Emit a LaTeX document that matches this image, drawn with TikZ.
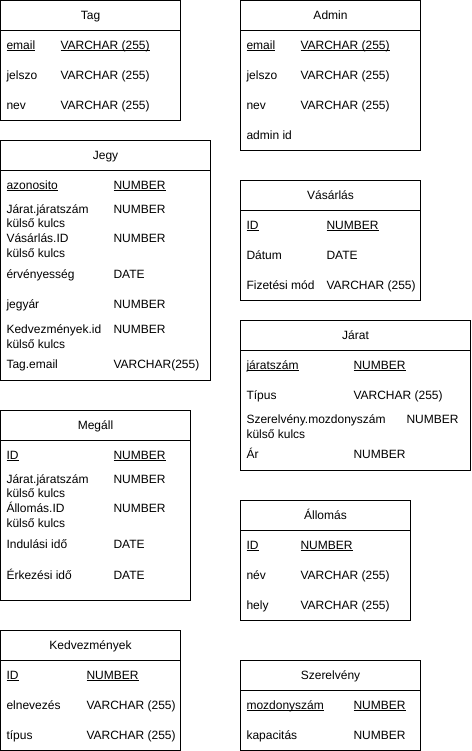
\documentclass[tikz,border=0pt]{standalone}
\usepackage{fontspec}
\setmainfont{Liberation Sans}
\newcommand\ulx[1]{\setbox0=\hbox{#1}\rlap{\rule[-1.7pt]{\wd0}{0.7pt}}\box0}
\begin{document}
\begin{tikzpicture}[x=1pt,y=-1pt,line width=1pt,
  fld/.style={anchor=base west,inner sep=0pt,yshift=-4.3pt,font=\fontsize{12}{14}\selectfont},
  ttl/.style={anchor=base,inner sep=0pt,yshift=-4.3pt,font=\fontsize{12}{14}\selectfont}]
\useasboundingbox (0,0) rectangle (471,751);
\fill[white] (0,0) rectangle (471,751);
% Tag
\draw (0.5,0.5) rectangle (180.5,120.5); \draw (0.5,30.5) -- (180.5,30.5);
\node[ttl] (tagT) at (90.5,15) {Tag};
\node[fld] (tag1a) at (6,45) {\ulx{email}}; \node[fld] (tag1b) at (60,45) {\ulx{VARCHAR (255)}};
\node[fld] (tag2a) at (6,75) {jelszo}; \node[fld] (tag2b) at (60,75) {VARCHAR (255)};
\node[fld] (tag3a) at (6,105) {nev}; \node[fld] (tag3b) at (60,105) {VARCHAR (255)};
% Admin
\draw (240.5,0.5) rectangle (420.5,150.5); \draw (240.5,30.5) -- (420.5,30.5);
\node[ttl] (admT) at (330.5,15) {Admin};
\node[fld] (adm1a) at (246,45) {\ulx{email}}; \node[fld] (adm1b) at (300,45) {\ulx{VARCHAR (255)}};
\node[fld] (adm2a) at (246,75) {jelszo}; \node[fld] (adm2b) at (300,75) {VARCHAR (255)};
\node[fld] (adm3a) at (246,105) {nev}; \node[fld] (adm3b) at (300,105) {VARCHAR (255)};
\node[fld] (adm4a) at (246,135) {admin id};
% Jegy
\draw (0.5,140.5) rectangle (210.5,380.5); \draw (0.5,170.5) -- (210.5,170.5);
\node[ttl] (jegT) at (105.5,155) {Jegy};
\node[fld] (jeg1a) at (6,185) {\ulx{azonosito}}; \node[fld] (jeg1b) at (113,185) {\ulx{NUMBER}};
\node[fld] (jeg2a) at (6,209) {Járat.járatszám}; \node[fld] (jeg2c) at (6,223.5) {külső kulcs}; \node[fld] (jeg2b) at (113,209) {NUMBER};
\node[fld] (jeg3a) at (6,238.5) {Vásárlás.ID}; \node[fld] (jeg3c) at (6,253) {külső kulcs}; \node[fld] (jeg3b) at (113,238.5) {NUMBER};
\node[fld] (jeg4a) at (6,274) {érvényesség}; \node[fld] (jeg4b) at (113,274) {DATE};
\node[fld] (jeg5a) at (6,304.5) {jegyár}; \node[fld] (jeg5b) at (113,304.5) {NUMBER};
\node[fld] (jeg6a) at (6,329.5) {Kedvezmények.id}; \node[fld] (jeg6c) at (6,344) {külső kulcs}; \node[fld] (jeg6b) at (113,329.5) {NUMBER};
\node[fld] (jeg7a) at (6,364.5) {Tag.email}; \node[fld] (jeg7b) at (113,364.5) {VARCHAR(255)};
% Vasarlas
\draw (240.5,180.5) rectangle (420.5,300.5); \draw (240.5,210.5) -- (420.5,210.5);
\node[ttl] (vasT) at (330.5,195) {Vásárlás};
\node[fld] (vas1a) at (246,225) {\ulx{ID}}; \node[fld] (vas1b) at (326,225) {\ulx{NUMBER}};
\node[fld] (vas2a) at (246,255) {Dátum}; \node[fld] (vas2b) at (326,255) {DATE};
\node[fld] (vas3a) at (246,285) {Fizetési mód}; \node[fld] (vas3b) at (326,285) {VARCHAR (255)};
% Jarat
\draw (240.5,320.5) rectangle (470.5,470.5); \draw (240.5,350.5) -- (470.5,350.5);
\node[ttl] (jarT) at (355.5,335) {Járat};
\node[fld] (jar1a) at (246,365) {\ulx{járatszám}}; \node[fld] (jar1b) at (353,365) {\ulx{NUMBER}};
\node[fld] (jar2a) at (246,395) {Típus}; \node[fld] (jar2b) at (353,395) {VARCHAR (255)};
\node[fld] (jar3a) at (246,419.5) {Szerelvény.mozdonyszám}; \node[fld] (jar3c) at (246,434) {külső kulcs}; \node[fld] (jar3b) at (406,419.5) {NUMBER};
\node[fld] (jar4a) at (246,454.5) {Ár}; \node[fld] (jar4b) at (353,454.5) {NUMBER};
% Megall
\draw (0.5,410.5) rectangle (190.5,600.5); \draw (0.5,440.5) -- (190.5,440.5);
\node[ttl] (megT) at (95.5,425) {Megáll};
\node[fld] (meg1a) at (6,455) {\ulx{ID}}; \node[fld] (meg1b) at (113,455) {\ulx{NUMBER}};
\node[fld] (meg2a) at (6,479) {Járat.járatszám}; \node[fld] (meg2c) at (6,493.5) {külső kulcs}; \node[fld] (meg2b) at (113,479) {NUMBER};
\node[fld] (meg3a) at (6,508.5) {Állomás.ID}; \node[fld] (meg3c) at (6,523) {külső kulcs}; \node[fld] (meg3b) at (113,508.5) {NUMBER};
\node[fld] (meg4a) at (6,544.5) {Indulási idő}; \node[fld] (meg4b) at (113,544.5) {DATE};
\node[fld] (meg5a) at (6,575) {Érkezési idő}; \node[fld] (meg5b) at (113,575) {DATE};
% Allomas
\draw (240.5,500.5) rectangle (410.5,620.5); \draw (240.5,530.5) -- (410.5,530.5);
\node[ttl] (allT) at (325.5,515) {Állomás};
\node[fld] (all1a) at (246,545) {\ulx{ID}}; \node[fld] (all1b) at (300,545) {\ulx{NUMBER}};
\node[fld] (all2a) at (246,575) {név}; \node[fld] (all2b) at (300,575) {VARCHAR (255)};
\node[fld] (all3a) at (246,605) {hely}; \node[fld] (all3b) at (300,605) {VARCHAR (255)};
% Kedvezmenyek
\draw (0.5,630.5) rectangle (180.5,750.5); \draw (0.5,660.5) -- (180.5,660.5);
\node[ttl] (kedT) at (90.5,645) {Kedvezmények};
\node[fld] (ked1a) at (6,675) {\ulx{ID}}; \node[fld] (ked1b) at (86,675) {\ulx{NUMBER}};
\node[fld] (ked2a) at (6,705) {elnevezés}; \node[fld] (ked2b) at (86,705) {VARCHAR (255)};
\node[fld] (ked3a) at (6,735) {típus}; \node[fld] (ked3b) at (86,735) {VARCHAR (255)};
% Szerelveny
\draw (240.5,660.5) rectangle (420.5,750.5); \draw (240.5,690.5) -- (420.5,690.5);
\node[ttl] (szeT) at (330.5,675) {Szerelvény};
\node[fld] (sze1a) at (246,705) {\ulx{mozdonyszám}}; \node[fld] (sze1b) at (353,705) {\ulx{NUMBER}};
\node[fld] (sze2a) at (246,735) {kapacitás}; \node[fld] (sze2b) at (353,735) {NUMBER};
\end{tikzpicture}
\end{document}
